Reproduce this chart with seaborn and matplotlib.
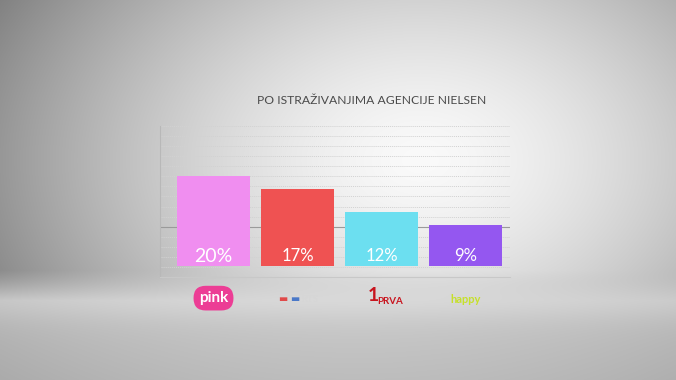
import numpy as np
import pandas as pd
import matplotlib
matplotlib.use("Agg")
import matplotlib.pyplot as plt
import matplotlib.transforms as mtransforms
import seaborn as sns

# ---- data ----
channels = ["Pink", "RTS", "Prva", "Happy"]
shares = [20, 17, 12, 9]
labels = ["20%", "17%", "12%", "9%"]
bar_colors = ["#f08ef0", "#ef5252", "#6cdff0", "#9457f0"]
title = "PO ISTRAŽIVANJIMA AGENCIJE NIELSEN"

sns.set_theme(style="white")
plt.rcParams["font.family"] = ["Lato", "DejaVu Sans"]

W, H = 676, 380
fig = plt.figure(figsize=(W / 100, H / 100), dpi=100)

# ---- background gradient (studio look) ----
bg = fig.add_axes([0, 0, 1, 1])
yy, xx = np.mgrid[0:H, 0:W]
r = np.sqrt(((xx - 420) / 400.0) ** 2 + ((yy - 160) / 280.0) ** 2)
val = 0.98 - 0.36 * np.clip(r, 0, 1.3) ** 1.5
fval = 0.80 + 0.05 * np.exp(-((yy - 298) / 22.0) ** 2) - 0.06 * np.clip((yy - 300) / 80.0, 0, 1)
fval = fval - 0.07 * np.clip(np.abs(xx - 360) / 360.0, 0, 1) ** 2
blend = np.clip((yy - 270) / 30.0, 0, 1)
val = val * (1 - blend) + fval * blend
val = np.clip(val, 0, 1)
bg.imshow(np.dstack([val, val, val]), aspect="auto", extent=[0, W, H, 0])
bg.set_axis_off()

# ---- chart axes ----
ax = fig.add_axes([160 / W, 1 - 277 / H, 350 / W, 151 / H])
ax.patch.set_alpha(0)
df = pd.DataFrame({"channel": channels, "share": shares})
sns.barplot(data=df, x="channel", y="share", hue="channel", palette=bar_colors,
            legend=False, width=0.87, saturation=1, linewidth=0, edgecolor="none",
            ax=ax, zorder=3)

ylo, yhi = -2.44, 31.1
ax.set_ylim(ylo, yhi)
ax.set_xlim(-0.637, 3.53)

# gridlines
glines = np.linspace(ylo, yhi, 16)
for i, g in enumerate(glines[1:], start=1):
    if i == 5:
        ax.axhline(g, color="#9a9a9a", lw=0.8, zorder=1)
    else:
        ax.axhline(g, color="#d2d2d2", lw=0.7, ls=(0, (1, 1)), zorder=1)

for s in ["top", "right"]:
    ax.spines[s].set_visible(False)
ax.spines["left"].set_color("#b8b8b8")
ax.spines["bottom"].set_color("#c8c8c8")
ax.spines["left"].set_linewidth(0.8)
ax.spines["bottom"].set_linewidth(0.8)
ax.set_xlabel("")
ax.set_ylabel("")
ax.set_xticks([])
ax.set_yticks([])

# value labels
for i, (lab, v) in enumerate(zip(labels, shares)):
    ax.text(i, 2.2, lab, ha="center", va="center", color="white",
            fontsize=14 if i == 0 else 12, zorder=5)

# channel "logos" as text under the axis
tr = mtransforms.blended_transform_factory(ax.transData, ax.transAxes)
ax.text(0, -0.14, "pink", transform=tr, ha="center", va="center", color="white",
        fontsize=11, fontweight="bold",
        bbox=dict(boxstyle="round,pad=0.35,rounding_size=0.8", fc="#ec3d95", ec="none"),
        clip_on=False)
ax.text(0.82, -0.15, "▬", transform=tr, ha="center", va="center", color="#e04a4a",
        fontsize=7, clip_on=False)
ax.text(0.97, -0.15, "▬", transform=tr, ha="center", va="center", color="#4a78c8",
        fontsize=7, clip_on=False)
ax.text(1.15, -0.15, "RTS", transform=tr, ha="center", va="center", color="#d6d6d6",
        fontsize=7, clip_on=False)
ax.text(1.9, -0.12, "1", transform=tr, ha="center", va="center", color="#c8141e",
        fontsize=14, fontweight="bold", clip_on=False)
ax.text(2.1, -0.165, "PRVA", transform=tr, ha="center", va="center", color="#c8141e",
        fontsize=7, fontweight="bold", clip_on=False)
ax.text(3.0, -0.15, "happy", transform=tr, ha="center", va="center", color="#c6e02a",
        fontsize=8, fontweight="bold", clip_on=False)

# title
fig.text(372 / W, 1 - 100 / H, title, ha="center", va="center", color="#4a4a4a",
         fontsize=8.7)

fig.savefig("out.png", dpi=100)
